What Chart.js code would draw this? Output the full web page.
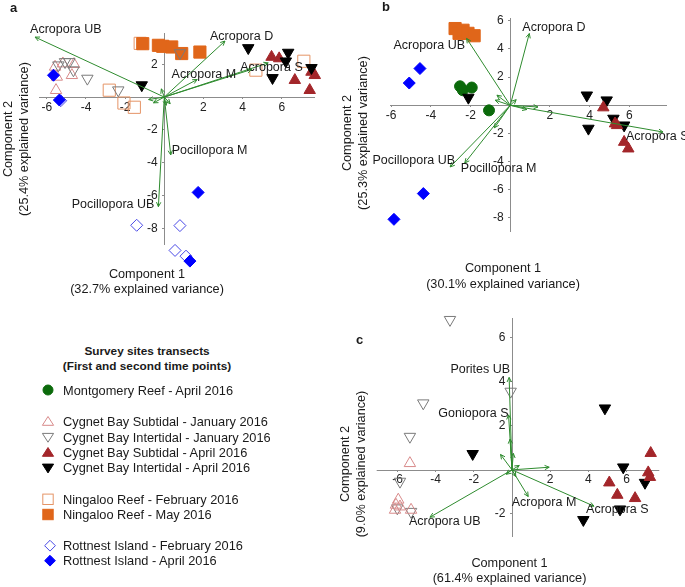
<!DOCTYPE html>
<html><head><meta charset="utf-8">
<script src="https://cdn.jsdelivr.net/npm/chart.js@4.4.0/dist/chart.umd.min.js"></script>
<style>
html,body{margin:0;padding:0;background:#fff}
body{width:685px;height:587px;position:relative;overflow:hidden;font-family:"Liberation Sans",Arial,sans-serif;color:#1a1a1a}
canvas{position:absolute}
.t{position:absolute;white-space:nowrap;text-align:center;font-size:12.7px}
.rot{transform:rotate(-90deg);transform-origin:50% 50%}
.lab{position:absolute;font-size:13px;font-weight:bold}
.lg{position:absolute;left:63px;font-size:12.8px;line-height:15px;white-space:nowrap}
</style></head><body>

<canvas id="ca" width="335" height="300" style="left:0;top:0"></canvas>
<canvas id="cb" width="345" height="300" style="left:340px;top:0"></canvas>
<canvas id="cc" width="345" height="287" style="left:340px;top:300px"></canvas>

<div class="lab" style="left:10px;top:0px">a</div>
<div class="lab" style="left:382px;top:-1px">b</div>
<div class="lab" style="left:356px;top:332px">c</div>

<div class="t" style="left:27px;top:266.5px;width:240px;line-height:15px">Component 1<br>(32.7% explained variance)</div>
<div class="t rot" style="left:-94px;top:123px;width:220px;height:32px;line-height:16px">Component 2<br>(25.4% explained variance)</div>
<div class="t" style="left:383px;top:260px;width:240px;line-height:16px">Component 1<br>(30.1% explained variance)</div>
<div class="t rot" style="left:245px;top:117px;width:220px;height:32px;line-height:16px">Component 2<br>(25.3% explained variance)</div>
<div class="t" style="left:389.5px;top:556px;width:240px;line-height:14.5px">Component 1<br>(61.4% explained variance)</div>
<div class="t rot" style="left:243px;top:448px;width:220px;height:32px;line-height:16px">Component 2<br>(9.0% explained variance)</div>

<div class="t" style="left:27px;top:344px;width:240px;line-height:15px;font-weight:bold;font-size:11.8px">Survey sites transects<br>(First and second time points)</div>

<svg id="lgsvg" width="70" height="587" style="position:absolute;left:0;top:0"></svg>
<div id="legend"></div>

<script>
const FONT = '"Liberation Sans", Arial, sans-serif';
const ARROW = '#2e8b2e';
const AXIS = '#8c8c8c';

// ---------- Legend ----------
const legendLabels = [
  'Montgomery Reef - April 2016',
  'Cygnet Bay Subtidal - January 2016',
  'Cygnet Bay Intertidal - January 2016',
  'Cygnet Bay Subtidal - April 2016',
  'Cygnet Bay Intertidal - April 2016',
  'Ningaloo Reef - February 2016',
  'Ningaloo Reef - May 2016',
  'Rottnest Island - February 2016',
  'Rottnest Island - April 2016'
];
const legendKeys = ['montgomery','cbSubJan','cbIntJan','cbSubApr','cbIntApr','ningFeb','ningMay','rottFeb','rottApr'];

// ---------- Panel a data (Component 1, Component 2) ----------
const aTicksX = [-6, -4, -2, 2, 4, 6];
const aTicksY = [2, -2, -4, -6, -8];
const aNingalooMay = [[-1.1,3.25],[-0.3,3.15],[-0.08,3.09],[0.38,3.05],[0.89,2.65],[1.82,2.74]];
const aNingalooFeb = [[-1.23,3.27],[-2.81,0.42],[-2.06,-0.36],[-1.53,-0.62],[4.68,1.64],[7.13,2.18]];
const aCygIntJan = [[-5.41,1.94],[-5.07,2.14],[-4.85,2.14],[-4.64,1.64],[-3.93,1.13],[-2.35,0.42],[0.8,2.68]];
const aCygSubJan = [[-5.58,1.84],[-5.49,1.23],[-5.53,0.42],[-5.18,2.04],[-4.61,2.0],[-4.72,1.33]];
const aRottApr = [[-5.66,1.33],[-5.36,-0.18],[1.73,-5.8],[1.31,-9.98]];
const aRottFeb = [[-5.29,-0.22],[-1.41,-7.8],[0.8,-7.82],[0.55,-9.33],[1.11,-9.68]];
const aCygSubApr = [[5.48,2.44],[5.87,2.35],[6.67,1.03],[7.43,0.42],[7.52,1.53],[7.69,1.33]];
const aCygIntApr = [[-1.15,0.73],[4.29,2.99],[5.53,1.17],[6.21,2.18],[6.33,2.71],[7.52,1.78]];
const aArrowNames = ['Acropora UB','Acropora D','Acropora M','Acropora S','','Pocillopora M','Pocillopora UB','','','','',''];
const aArrowX = [-6.6, 3.1, 1.68, 5.31, 4.46, 0.33, -0.3, -0.55, -0.8, 0.1, -0.15, 0.3];
const aArrowY = [3.65, 3.41, 1.07, 2.08, 1.68, -3.52, -6.67, -0.35, -0.15, -0.5, 0.5, -0.4];

// ---------- Panel b data ----------
const bTicksX = [-6, -4, -2, 2, 4, 6];
const bTicksY = [6, 4, 2, -2, -4, -6, -8];
const bNingalooMay = [[-2.78,5.45],[-2.58,5.11],[-2.38,5.33],[-2.13,5.11],[-1.82,4.94]];
const bRottApr = [[-4.55,2.61],[-5.09,1.58],[-4.38,-6.27],[-5.86,-8.1]];
const bMontgomery = [[-2.53,1.35],[-2.39,1.07],[-1.94,1.26],[-1.07,-0.36]];
const bCygIntApr = [[-2.11,0.55],[3.86,0.71],[4.86,0.36],[3.94,-1.65],[5.2,-0.94],[5.74,-1.42]];
const bCygSubApr = [[4.69,-0.16],[5.28,-1.3],[5.38,-1.42],[5.74,-2.61],[5.95,-3.08]];
const bArrowNames = ['Acropora UB','Acropora D','Acropora S','Pocillopora UB','Pocillopora M','','','','','',''];
const bArrowX = [-2.2, 0.96, 7.7, -3.03, -2.29, -0.67, -0.76, 0.84, 1.4, -0.8, 0.3];
const bArrowY = [4.75, 5.1, -1.9, -4.38, -4.1, 0.72, 0.36, -0.3, -0.12, -1.6, 0.4];

// ---------- Panel c data ----------
const cTicksX = [-6, -4, -2, 2, 4, 6];
const cTicksY = [6, 4, 2, -2];
const cCygIntJan = [[-3.25,6.82],[-4.65,3.03],[-5.35,1.51],[-0.07,3.56],[-5.87,-0.53],[-6.01,-1.74],[-5.29,-1.9]];
const cCygSubJan = [[-5.35,0.3],[-5.96,-1.36],[-6.08,-1.59],[-5.87,-1.67],[-6.13,-1.82],[-5.29,-1.82]];
const cCygIntApr = [[4.87,2.8],[-2.06,0.73],[5.83,0.12],[6.97,-0.58],[5.66,-1.79],[3.74,-2.27]];
const cCygSubApr = [[7.27,0.76],[7.14,-0.12],[7.23,-0.33],[5.1,-0.58],[5.52,-1.14],[6.45,-1.29]];
const cArrowNames = ['Porites UB','Goniopora S','Acropora UB','Acropora M','Acropora S','','','','','','',''];
const cArrowX = [-0.15, -0.18, -4.3, 0.85, 4.3, 1.95, -0.6, 0.38, 0.07, -0.1, 0.2, -0.3];
const cArrowY = [4.2, 2.5, -2.15, -1.21, -1.65, 0.12, 0.7, 0.2, 0.75, 1.4, -0.3, -0.2];

// ---------- styles ----------
const STYLE = {
  montgomery: {ps:'circle', r:5.5, bg:'#0b6a0b', bc:'#0b6a0b', rot:0},
  cbSubJan:   {ps:'triangle', r:6.6, bg:'rgba(0,0,0,0)', bc:'#d88a8a', rot:0},
  cbIntJan:   {ps:'triangle', r:6.6, bg:'rgba(0,0,0,0)', bc:'#7a7a7a', rot:180},
  cbSubApr:   {ps:'triangle', r:6.6, bg:'#a3262a', bc:'#a3262a', rot:0},
  cbIntApr:   {ps:'triangle', r:6.6, bg:'#000000', bc:'#000000', rot:180},
  ningFeb:    {ps:'rect', r:8.6, bg:'rgba(0,0,0,0)', bc:'#e59466', rot:0},
  ningMay:    {ps:'rect', r:8.6, bg:'#e0661a', bc:'#e0661a', rot:0},
  rottFeb:    {ps:'rectRot', r:6, bg:'rgba(0,0,0,0)', bc:'#4848e6', rot:0},
  rottApr:    {ps:'rectRot', r:6, bg:'#0000ff', bc:'#0000ff', rot:0}
};

// label placement (pixel offset from arrow tip, alignment)
const PLACE_A = {'Acropora UB':[-5,-8,'left'],'Acropora D':[-15,-5,'left'],'Acropora M':[-25.6,-5,'left'],'Acropora S':[-28,5,'left'],'Pocillopora M':[1,-4,'left'],'Pocillopora UB':[-4,-2,'right']};
const PLACE_B = {'Acropora UB':[-1.6,7,'right'],'Acropora D':[-7,-5.5,'left'],'Acropora S':[-37,5,'left'],'Pocillopora UB':[5,-6,'right'],'Pocillopora M':[-4,5.6,'left']};
const PLACE_C = {'Porites UB':[1,-7.6,'right'],'Goniopora S':[0,-1,'right'],'Acropora UB':[-21,4.4,'left'],'Acropora M':[-16.5,6,'left'],'Acropora S':[-8,3.7,'left']};

// axis lines drawn through the origin over these value extents
const axisLinePlugin = {
  id: 'axisLines',
  beforeDatasetsDraw(chart) {
    const o = chart.config.options.axisExtent;
    const {x, y} = chart.scales;
    const ctx = chart.ctx;
    ctx.save();
    ctx.strokeStyle = AXIS; ctx.lineWidth = 1;
    ctx.beginPath();
    const py = Math.round(y.getPixelForValue(0)) + 0.5;
    ctx.moveTo(x.getPixelForValue(o.x[0]), py); ctx.lineTo(x.getPixelForValue(o.x[1]), py);
    const px = Math.round(x.getPixelForValue(0)) + 0.5;
    ctx.moveTo(px, y.getPixelForValue(o.y[0])); ctx.lineTo(px, y.getPixelForValue(o.y[1]));
    ctx.stroke();
    ctx.restore();
  }
};

const arrowPlugin = {
  id: 'arrowsDeco',
  afterDatasetsDraw(chart) {
    const ctx = chart.ctx;
    const place = chart.config.options.arrowPlace || {};
    chart.data.datasets.forEach((d, i) => {
      if (!d.isArrow) return;
      const m = chart.getDatasetMeta(i);
      const p0 = m.data[0], p1 = m.data[1];
      const ang = Math.atan2(p1.y - p0.y, p1.x - p0.x);
      ctx.save();
      ctx.strokeStyle = ARROW; ctx.lineWidth = 1;
      ctx.beginPath();
      [-1, 1].forEach(s => {
        ctx.moveTo(p1.x, p1.y);
        ctx.lineTo(p1.x - 5 * Math.cos(ang + s * 0.45), p1.y - 5 * Math.sin(ang + s * 0.45));
      });
      ctx.stroke();
      if (d.arrowLabel) {
        const pl = place[d.arrowLabel] || [3, 0, 'left'];
        ctx.font = '12.5px ' + FONT;
        ctx.fillStyle = '#1a1a1a';
        ctx.textAlign = pl[2];
        ctx.textBaseline = 'middle';
        ctx.fillText(d.arrowLabel, p1.x + pl[0], p1.y + pl[1]);
      }
      ctx.restore();
    });
  }
};

function axis(min, max, ticks, isX) {
  return {
    type: 'linear', min, max,
    position: isX ? {y: 0} : {x: 0},
    border: {display: false},
    grid: {display: true, drawOnChartArea: false, drawTicks: true, tickLength: 2, color: AXIS},
    ticks: {font: {family: FONT, size: 12}, color: '#222', padding: 1, autoSkip: false, maxRotation: 0,
            callback: isX ? (v => String(v)) : (v => v + '  ')},
    afterBuildTicks: s => { s.ticks = ticks.map(v => ({value: v})); }
  };
}

function makePanel(id, p) {
  const datasets = [];
  p.names.forEach((n, i) => {
    datasets.push({isArrow: true, arrowLabel: n, showLine: true,
      data: [{x: 0, y: 0}, {x: p.ax[i], y: p.ay[i]}],
      borderColor: ARROW, borderWidth: 1, pointRadius: 0, clip: false});
  });
  p.groups.forEach(([key, pts]) => {
    const s = STYLE[key];
    datasets.push({data: pts.map(q => ({x: q[0], y: q[1]})),
      pointStyle: s.ps, pointRadius: s.r, pointRotation: s.rot,
      backgroundColor: s.bg, borderColor: s.bc, borderWidth: 1, clip: false});
  });
  new Chart(document.getElementById(id), {
    type: 'scatter',
    data: {datasets},
    options: {
      responsive: false, animation: false, devicePixelRatio: 1,
      layout: {padding: p.pad},
      arrowPlace: p.place,
      axisExtent: p.ext,
      plugins: {legend: {display: false}, tooltip: {enabled: false}, title: {display: false}},
      scales: {x: axis(p.xr[0], p.xr[1], p.tx, true), y: axis(p.yr[0], p.yr[1], p.ty, false)}
    },
    plugins: [axisLinePlugin, arrowPlugin]
  });
}

makePanel('ca', {
  names: aArrowNames, ax: aArrowX, ay: aArrowY, place: PLACE_A,
  xr: [-6.4, 7.7], yr: [-10.5, 3.9], ext: {x: [-6.4, 7.7], y: [-9, 3.9]}, tx: aTicksX, ty: aTicksY,
  pad: {left: 39, top: 33, right: 20, bottom: 30.35},
  groups: [['cbIntApr', aCygIntApr], ['cbSubApr', aCygSubApr], ['rottApr', aRottApr], ['rottFeb', aRottFeb],
           ['cbIntJan', aCygIntJan], ['cbSubJan', aCygSubJan], ['ningMay', aNingalooMay], ['ningFeb', aNingalooFeb]]
});
makePanel('cb', {
  names: bArrowNames, ax: bArrowX, ay: bArrowY, place: PLACE_B,
  xr: [-6.06, 7.9], yr: [-9, 6.2], ext: {x: [-6.06, 7.9], y: [-9, 6.2]}, tx: bTicksX, ty: bTicksY,
  pad: {left: 50, top: 18, right: 18, bottom: 68},
  groups: [['cbSubApr', bCygSubApr], ['cbIntApr', bCygIntApr], ['montgomery', bMontgomery], ['rottApr', bRottApr], ['ningMay', bNingalooMay]]
});
makePanel('cc', {
  names: cArrowNames, ax: cArrowX, ay: cArrowY, place: PLACE_C,
  xr: [-7.09, 7.72], yr: [-3.05, 6.9], ext: {x: [-7.09, 7.72], y: [-3.05, 6.9]}, tx: cTicksX, ty: cTicksY,
  pad: {left: 36.7, top: 18, right: 25.7, bottom: 50},
  groups: [['cbSubApr', cCygSubApr], ['cbIntApr', cCygIntApr], ['cbSubJan', cCygSubJan], ['cbIntJan', cCygIntJan]]
});

// ---------- legend drawing ----------
const legendY = [390, 421.7, 437, 452.7, 467.7, 499.3, 514.5, 545.7, 560.7];
const svg = document.getElementById('lgsvg');
const NS = 'http://www.w3.org/2000/svg';
function shape(key, cx, cy) {
  const s = STYLE[key];
  let el;
  if (s.ps === 'circle') {
    el = document.createElementNS(NS, 'circle');
    el.setAttribute('cx', cx); el.setAttribute('cy', cy); el.setAttribute('r', 5);
  } else if (s.ps === 'triangle') {
    const w = 5.6, hUp = 5.2, hDn = 3.6;
    const pts = s.rot === 180
      ? `${cx - w},${cy - hDn} ${cx + w},${cy - hDn} ${cx},${cy + hUp}`
      : `${cx},${cy - hUp} ${cx + w},${cy + hDn} ${cx - w},${cy + hDn}`;
    el = document.createElementNS(NS, 'polygon'); el.setAttribute('points', pts);
  } else if (s.ps === 'rect') {
    el = document.createElementNS(NS, 'rect');
    el.setAttribute('x', cx - 5.2); el.setAttribute('y', cy - 5.2); el.setAttribute('width', 10.4); el.setAttribute('height', 10.4);
  } else {
    const r = 5.4;
    el = document.createElementNS(NS, 'polygon');
    el.setAttribute('points', `${cx},${cy - r} ${cx + r},${cy} ${cx},${cy + r} ${cx - r},${cy}`);
  }
  el.setAttribute('fill', s.bg === 'rgba(0,0,0,0)' ? 'none' : s.bg);
  el.setAttribute('stroke', s.bc);
  el.setAttribute('stroke-width', 1);
  svg.appendChild(el);
}
const lg = document.getElementById('legend');
legendLabels.forEach((t, i) => {
  shape(legendKeys[i], i >= 7 ? 50 : 48, legendY[i]);
  const d = document.createElement('div');
  d.className = 'lg';
  d.style.top = (legendY[i] - 7.5) + 'px';
  d.textContent = t;
  lg.appendChild(d);
});
</script>
</body></html>
